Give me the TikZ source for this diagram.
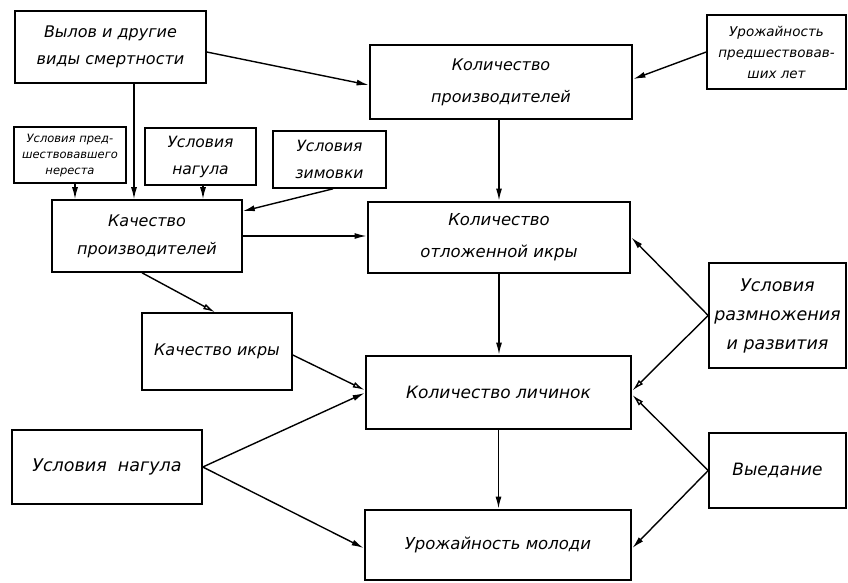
\documentclass[tikz,border=0pt]{standalone}
\usepackage{fontspec}
\setmainfont{DejaVu Sans}
\usetikzlibrary{arrows.meta,calc}
\newcommand{\fsz}[2]{\fontsize{#1}{#2}\selectfont}
\tikzset{
  box/.style={draw, line width=1.6pt, inner sep=1pt, align=center},
  mainbox/.style={box, line width=2.8pt},
  arr/.style={line width=1.4pt, -{Latex[length=12pt,width=6pt]}},
  oarr/.style={line width=1.4pt, -{Latex[open,length=12pt,width=6pt]}},
}
\begin{document}
\begin{tikzpicture}[x=1pt,y=-1pt]
\useasboundingbox (0,0) rectangle (848,582);
% boxes
\node[box, minimum width=191pt, minimum height=72pt, font=\itshape\fsz{16}{27}] (A) at (110.5,47) {Вылов и другие\\виды смертности};
\node[mainbox, minimum width=262pt, minimum height=74pt, font=\itshape\fsz{16}{32}] (B) at (501,82) {Количество\\производителей};
\node[box, minimum width=139pt, minimum height=74pt, font=\itshape\fsz{13.5}{21}] (C) at (776.5,52) {Урожайность\\предшествовав-\\ших лет};
\node[box, minimum width=112pt, minimum height=56pt, font=\itshape\fsz{11.5}{16}] (D) at (70,155) {Условия пред-\\шествовавшего\\нереста};
\node[box, minimum width=111pt, minimum height=57pt, font=\itshape\fsz{15.5}{27}] (E) at (200.5,156.5) {Условия\\нагула};
\node[box, minimum width=113pt, minimum height=57pt, font=\itshape\fsz{15.5}{27}] (F) at (329.5,159.5) {Условия\\зимовки};
\node[box, minimum width=190pt, minimum height=72pt, font=\itshape\fsz{16}{28}] (G) at (147,236) {Качество\\производителей};
\node[mainbox, minimum width=262pt, minimum height=71pt, font=\itshape\fsz{16.5}{32}] (H) at (499,237.5) {Количество\\отложенной икры};
\node[box, minimum width=150pt, minimum height=77pt, font=\itshape\fsz{16}{20}] (I) at (217,351.5) {Качество икры};
\node[box, minimum width=137pt, minimum height=105pt, font=\itshape\fsz{17.5}{29}] (J) at (777.5,315.5) {Условия\\размножения\\и развития};
\node[mainbox, minimum width=265pt, minimum height=73pt, font=\itshape\fsz{17}{20}] (K) at (498.5,392.5) {Количество личинок};
\node[box, minimum width=190pt, minimum height=74pt, font=\itshape\fsz{17.5}{20}] (L) at (107,467) {Условия\ \ нагула};
\node[mainbox, minimum width=266pt, minimum height=70pt, font=\itshape\fsz{16.5}{20}] (M) at (498,545) {Урожайность молоди};
\node[box, minimum width=137pt, minimum height=75pt, font=\itshape\fsz{17}{20}] (N) at (777.5,470.5) {Выедание};
% connectors
\draw[arr] ([yshift=-5pt]A.east) -- ([yshift=-3pt]B.west);
\draw[arr] (C.west) -- ([yshift=3pt]B.east);
\draw[arr] (H.north |- B.south) -- (H.north);
\draw[arr] ([xshift=23.5pt]A.south) -- ([xshift=23.5pt]A.south |- G.north);
\draw[arr] ([xshift=5pt]D.south) -- ([xshift=5pt]D.south |- G.north);
\draw[arr] ([xshift=2.5pt]E.south) -- ([xshift=2.5pt]E.south |- G.north);
\draw[arr] ([xshift=3.5pt]F.south) -- ([yshift=-12pt]G.north east);
\draw[arr] (G.east) -- (G.east -| H.west);
\draw[oarr] ([xshift=-5pt]G.south) -- ([xshift=-2pt]I.north);
\draw[arr] (H.south) -- (H.south |- K.north);
\draw[arr] (J.west) -- (H.east);
\draw[oarr] (J.west) -- ([yshift=2pt]K.east);
\draw[oarr] ([yshift=-3.5pt]I.east) -- ([yshift=2.5pt]K.west);
\draw[arr] (L.east) -- ([yshift=-0.5pt]K.west);
\draw[arr] (L.east) -- ([yshift=-3pt]M.west);
\draw[arr] (K.south) -- (K.south |- M.north);
\draw[oarr] (N.west) -- ([yshift=-2.5pt]K.east);
\draw[arr] (N.west) -- ([yshift=-3pt]M.east);
\end{tikzpicture}
\end{document}
